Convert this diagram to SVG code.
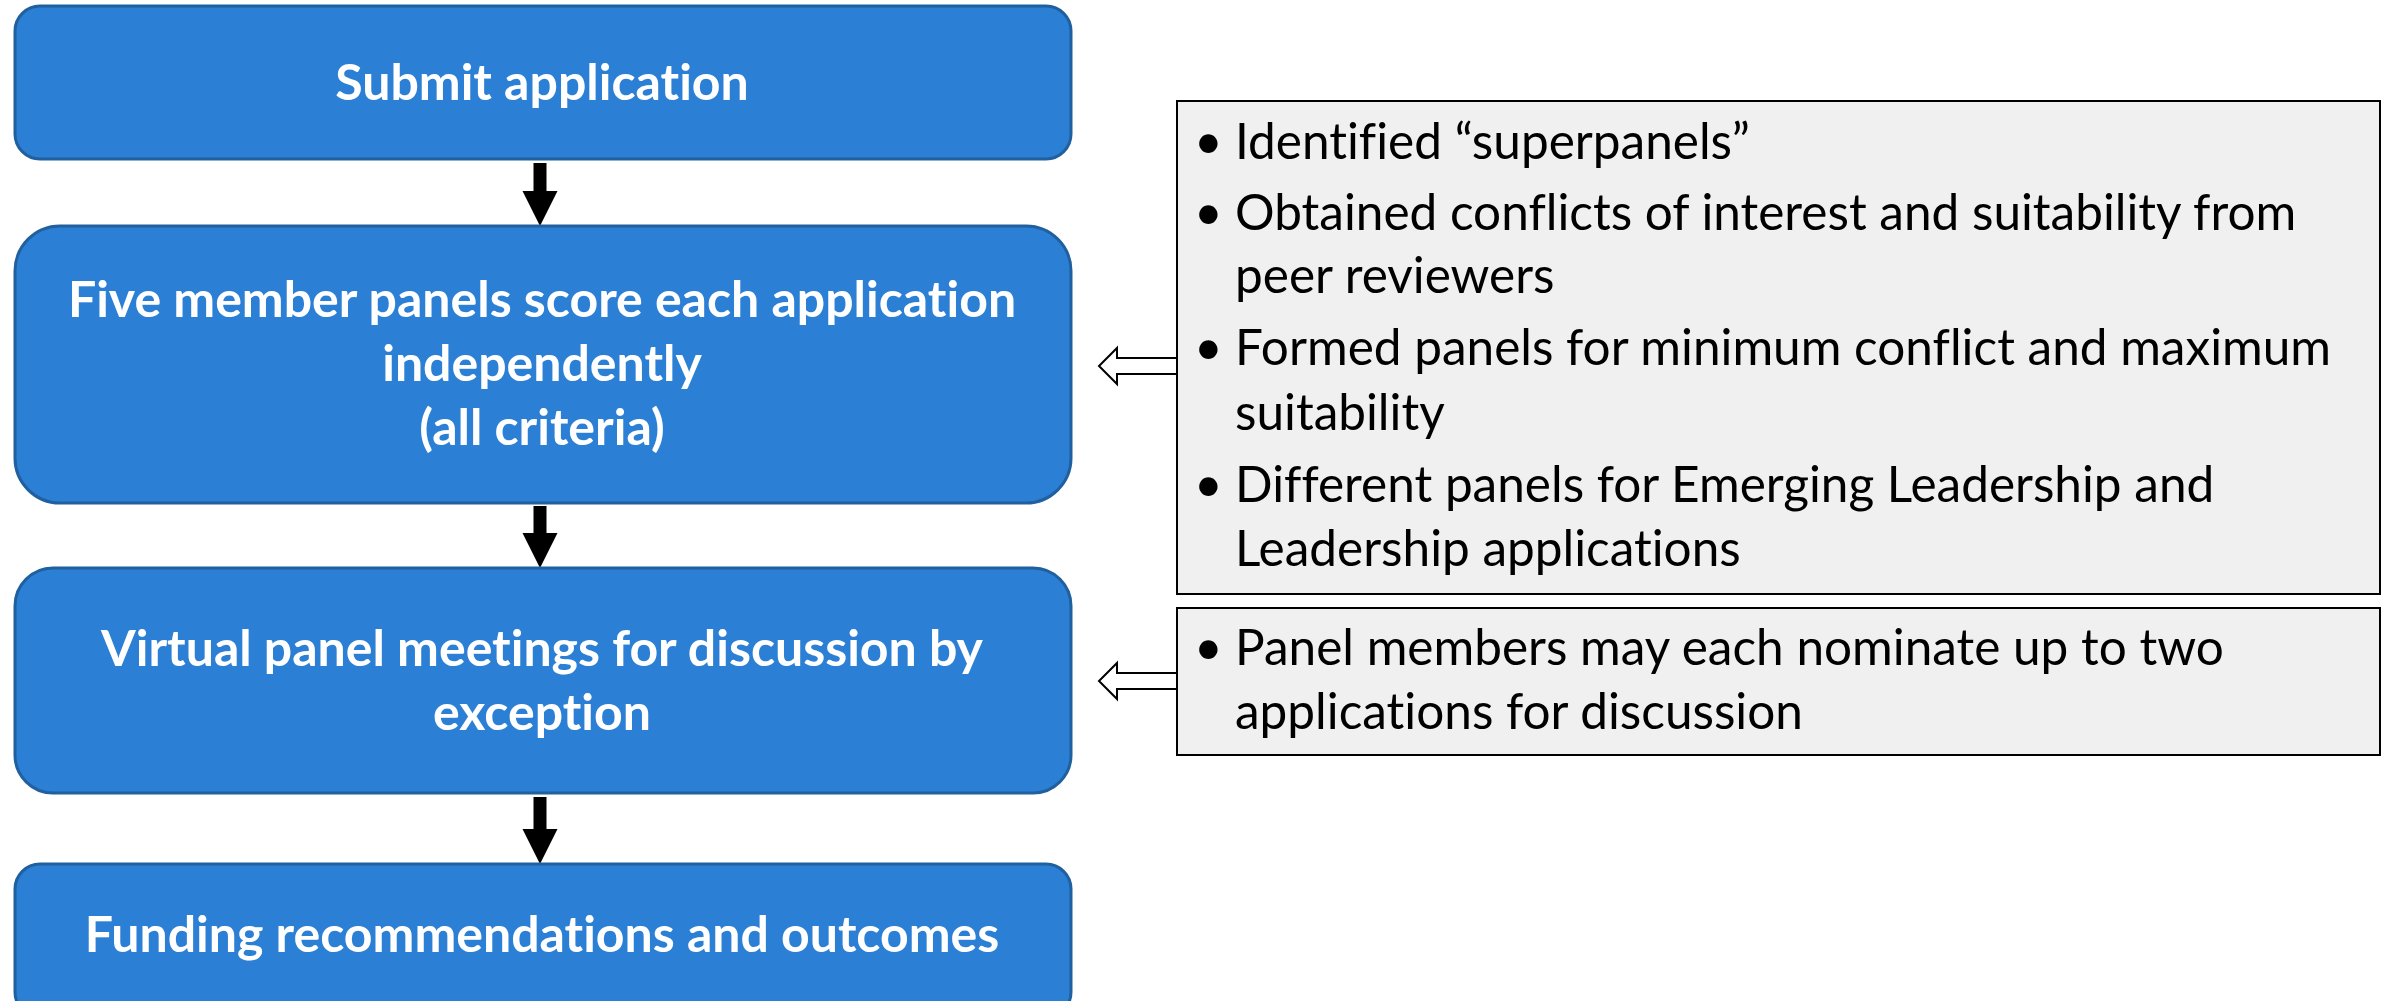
<svg xmlns="http://www.w3.org/2000/svg" width="2392" height="1001" viewBox="0 0 2392 1001">
<style>
.step{fill:#2B7FD5;stroke:#21609F;stroke-width:3}
.st{font-family:Lato,"Open Sans",sans-serif;font-weight:700;font-size:50px;fill:#FFFFFF;text-anchor:middle;font-variant-ligatures:none}
.note{fill:#F0F0F0;stroke:#000000;stroke-width:2}
.nt{font-family:Lato,"Open Sans",sans-serif;font-size:49.5px;fill:#000000;font-variant-ligatures:none}
.flow{fill:#000000;stroke:none}
.hollow{fill:#FFFFFF;stroke:#000000;stroke-width:2;stroke-linejoin:miter}
</style>
<rect width="2392" height="1001" fill="#FFFFFF"/>
<g id="connectors">
<path class="flow" d="M533.5,163 H546.5 V191 H557.5 L540,226 L522.5,191 H533.5 Z"/>
<path class="flow" d="M533.5,506 H546.5 V533 H557.5 L540,568 L522.5,533 H533.5 Z"/>
<path class="flow" d="M533.5,797 H546.5 V829 H557.5 L540,864 L522.5,829 H533.5 Z"/>
<path class="hollow" d="M1177,358 H1117 V348 L1099,366 L1117,384 V374 H1177"/>
<path class="hollow" d="M1177,673 H1117 V663 L1099,681 L1117,699 V689 H1177"/>
</g>
<g id="submit">
<rect class="step" x="15" y="6" width="1056" height="153" rx="25"/>
<text class="st" x="542" y="100">Submit application</text>
</g>
<g id="score">
<rect class="step" x="15" y="226" width="1056" height="277" rx="45"/>
<text class="st" x="542" y="317">Five member panels score each application</text>
<text class="st" x="542" y="381">independently</text>
<text class="st" x="542" y="445">(all criteria)</text>
</g>
<g id="meetings">
<rect class="step" x="15" y="568" width="1056" height="225" rx="38"/>
<text class="st" x="542" y="666">Virtual panel meetings for discussion by</text>
<text class="st" x="542" y="730">exception</text>
</g>
<g id="funding">
<rect class="step" x="15" y="864" width="1056" height="153" rx="25"/>
<text class="st" x="542" y="952">Funding recommendations and outcomes</text>
</g>
<g id="panel-notes">
<rect class="note" x="1177" y="101" width="1203" height="493"/>
<text class="nt" x="1194" y="159">•</text>
<text class="nt" x="1235" y="159">Identified “superpanels”</text>
<text class="nt" x="1194" y="230">•</text>
<text class="nt" x="1235" y="230">Obtained conflicts of interest and suitability from</text>
<text class="nt" x="1235" y="293">peer reviewers</text>
<text class="nt" x="1194" y="365">•</text>
<text class="nt" x="1235" y="365">Formed panels for minimum conflict and maximum</text>
<text class="nt" x="1235" y="430">suitability</text>
<text class="nt" x="1194" y="502">•</text>
<text class="nt" x="1235" y="502">Different panels for Emerging Leadership and</text>
<text class="nt" x="1235" y="566">Leadership applications</text>
</g>
<g id="discussion-notes">
<rect class="note" x="1177" y="608" width="1203" height="147"/>
<text class="nt" x="1194" y="665">•</text>
<text class="nt" x="1235" y="665">Panel members may each nominate up to two</text>
<text class="nt" x="1235" y="729">applications for discussion</text>
</g>
</svg>
